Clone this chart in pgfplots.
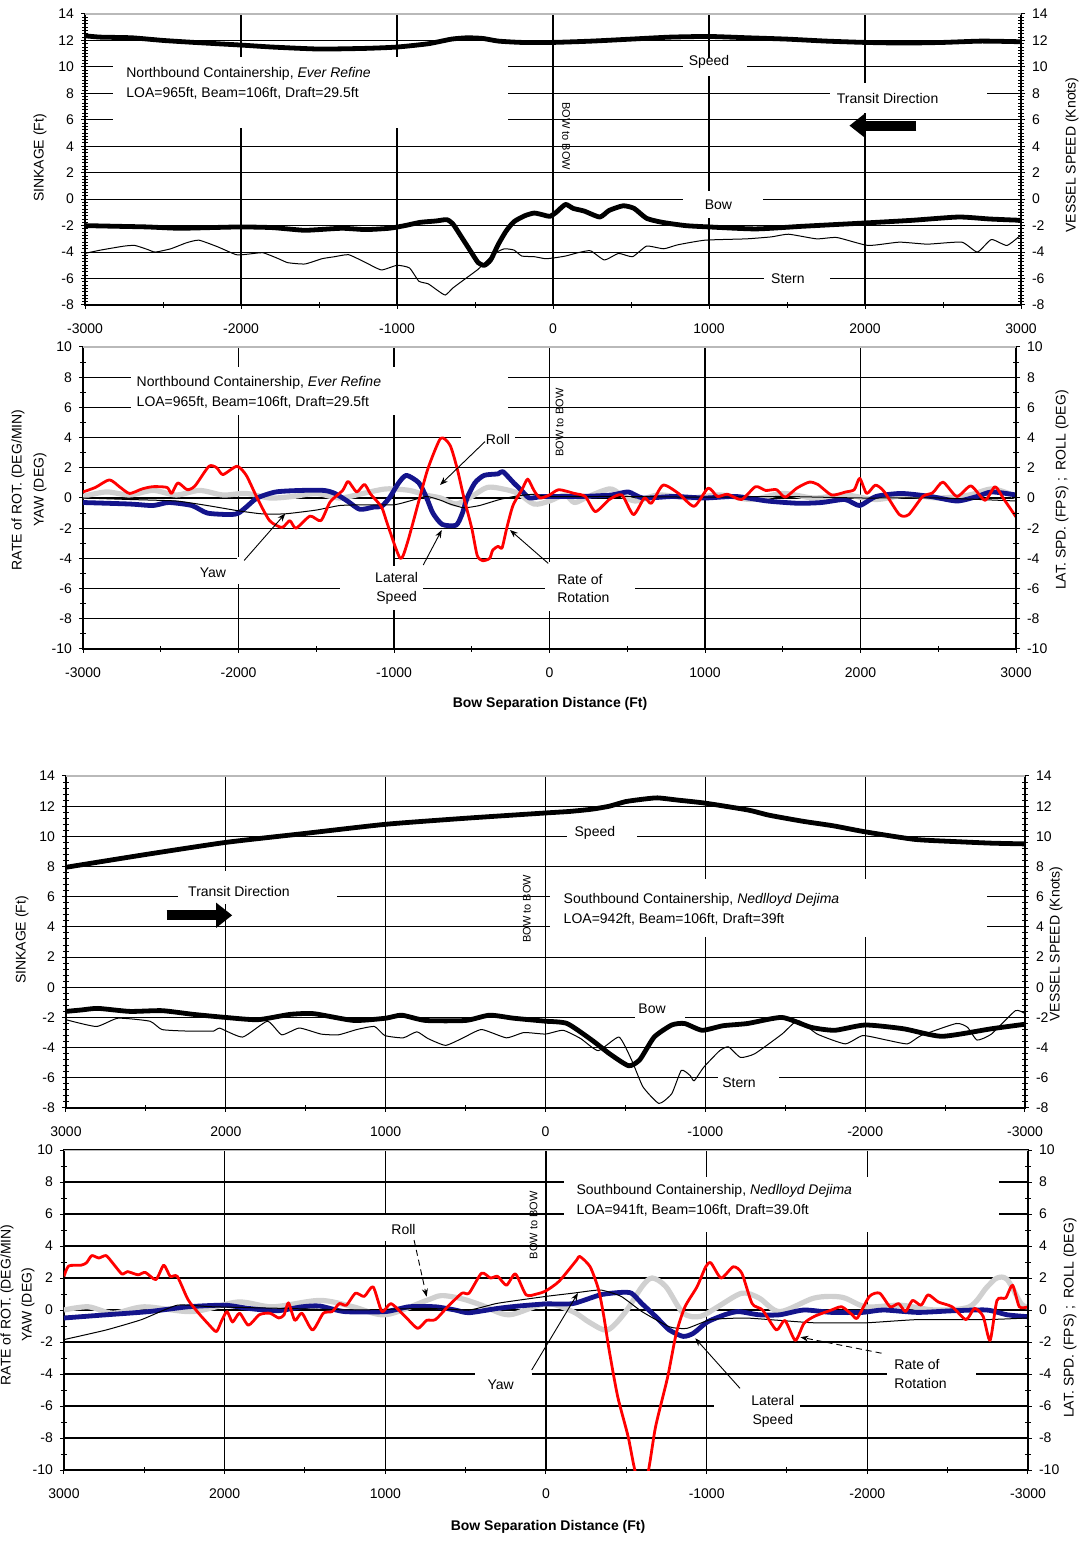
\documentclass[border=0pt]{standalone}
\usepackage{pgfplots}
\pgfplotsset{compat=1.18}
\usepackage{fontspec}
\setmainfont{Liberation Sans}
\usetikzlibrary{arrows.meta}
\definecolor{latblue}{RGB}{20,20,140}
\definecolor{rollgray}{RGB}{208,208,208}
\definecolor{rotred}{RGB}{255,0,0}
\newcommand{\lf}{\fontsize{7}{8.4}\selectfont}
\newcommand{\smf}{\fontsize{5.5}{6}\selectfont}
\tikzset{ptr/.style={black, line width=0.45pt, -{Stealth[length=4pt,width=3pt]}}}
\pgfplotsset{
  panel/.style={
    scale only axis, anchor=south west,
    xmin=-3000, xmax=3000,
    xtick={-3000,-2000,...,3000},
    minor xtick={-2500,-1500,...,2500},
    tick pos=left, tick align=center,
    major tick length=4pt, minor tick length=3pt,
    tick style={black, line width=0.5pt},
    grid=major,
    major grid style={black, line width=0.55pt},
    axis line style={black, line width=0.7pt},
    ticklabel style={font=\lf},
    /pgf/number format/assume math mode=true,
    /pgf/number format/1000 sep={},
    scaled ticks=false,
    xticklabel style={yshift=-4pt},
  },
  rightax/.style={
    scale only axis, anchor=south west,
    xmin=-3000, xmax=3000,
    axis x line=none, axis y line*=right,
    axis line style={-, black, line width=0.7pt},
    tick align=center, major tick length=4pt, minor tick length=3pt,
    tick style={black, line width=0.5pt},
    ticklabel style={font=\lf},
    /pgf/number format/assume math mode=true,
  },
  thickk/.style={black, line width=2.4pt, line join=round, smooth, tension=0.35},
  thinn/.style={black, line width=0.5pt, line join=round, smooth, tension=0.3},
  redl/.style={rotred, line width=1.4pt, line join=round, smooth, tension=0.4},
  bluel/.style={latblue, line width=2.4pt, line join=round, smooth, tension=0.4},
  grayl/.style={rollgray, line width=2.6pt, line join=round, smooth, tension=0.5},
}
\begin{document}
\begin{tikzpicture}
\useasboundingbox (0,0) rectangle (542pt,770.5pt);

% ================= PANEL 1 =================
\begin{axis}[panel, at={(42.5pt,618pt)}, width=468pt, height=145.5pt,
  ymin=-8, ymax=14, ytick={-8,-6,...,14}, minor y tick num=7]
\fill[white] (axis cs:-2820,5.4) rectangle (axis cs:-287,10.73);
\fill[white] (axis cs:831,9.28) rectangle (axis cs:1243,10.66);
\fill[white] (axis cs:1777,6.5) rectangle (axis cs:2780,8.77);
\fill[white] (axis cs:831,-1.4) rectangle (axis cs:1343,0.6);
\fill[white] (axis cs:1354,-6.6) rectangle (axis cs:1777,-5.4);
% Stern
\addplot[thinn] coordinates {(-3000,-4.1) (-2900,-3.85) (-2750,-3.55) (-2680,-3.5) (-2600,-3.8) (-2550,-4.0) (-2450,-3.75) (-2350,-3.3) (-2270,-3.1) (-2150,-3.6) (-2030,-4.2) (-1950,-4.15) (-1860,-4.05) (-1760,-4.5) (-1700,-4.8) (-1590,-4.9) (-1480,-4.5) (-1400,-4.35) (-1310,-4.2) (-1200,-4.8) (-1100,-5.35) (-1000,-5.0) (-920,-5.2) (-860,-6.2) (-800,-6.4) (-740,-6.9) (-690,-7.25) (-640,-6.7) (-560,-6.0) (-480,-5.3) (-420,-4.6) (-360,-4.0) (-310,-3.75) (-250,-3.85) (-200,-4.3) (-120,-4.35) (-50,-4.5) (0,-4.45) (80,-4.3) (160,-4.05) (240,-3.9) (330,-4.6) (420,-4.1) (510,-4.35) (600,-3.55) (710,-3.75) (800,-3.45) (975,-3.1) (1240,-3.0) (1400,-2.85) (1510,-2.65) (1690,-3.0) (1820,-2.9) (2020,-3.5) (2220,-3.25) (2400,-3.4) (2620,-3.25) (2720,-4.0) (2810,-3.05) (2910,-3.5) (3000,-2.7)};
% Bow
\addplot[thickk] coordinates {(-3000,-2.0) (-2800,-2.05) (-2600,-2.1) (-2400,-2.2) (-2200,-2.15) (-2000,-2.1) (-1800,-2.15) (-1600,-2.35) (-1500,-2.3) (-1350,-2.2) (-1200,-2.3) (-1050,-2.2) (-950,-2.0) (-850,-1.75) (-750,-1.65) (-680,-1.55) (-640,-1.9) (-590,-2.8) (-530,-3.9) (-480,-4.8) (-440,-5.0) (-400,-4.6) (-350,-3.4) (-300,-2.4) (-250,-1.7) (-180,-1.25) (-120,-1.05) (-60,-1.2) (-20,-1.3) (20,-1.0) (80,-0.4) (130,-0.7) (200,-0.9) (300,-1.35) (360,-0.85) (450,-0.5) (520,-0.7) (600,-1.45) (700,-1.75) (850,-2.0) (1000,-2.1) (1300,-2.25) (1600,-2.05) (2000,-1.8) (2300,-1.6) (2600,-1.35) (2800,-1.5) (3000,-1.6)};
% Speed
\addplot[thickk] coordinates {(-3000,12.35) (-2900,12.25) (-2700,12.2) (-2500,12.0) (-2300,11.85) (-2000,11.65) (-1800,11.5) (-1500,11.35) (-1200,11.4) (-1000,11.5) (-800,11.75) (-650,12.1) (-550,12.2) (-450,12.15) (-350,11.95) (-200,11.85) (0,11.85) (250,11.95) (500,12.1) (750,12.25) (1000,12.3) (1250,12.2) (1500,12.1) (1750,11.95) (2000,11.85) (2250,11.8) (2500,11.85) (2750,11.95) (3000,11.9)};
\node[anchor=west, font=\lf, align=left] at (axis cs:-2780,8.75) {Northbound Containership, \textit{Ever Refine}\\[1.5pt]LOA=965ft, Beam=106ft, Draft=29.5ft};
\node[font=\lf] at (axis cs:1000,10.4) {Speed};
\node[font=\lf] at (axis cs:2145,7.6) {Transit Direction};
\node[font=\lf] at (axis cs:1060,-0.45) {Bow};
\node[font=\lf] at (axis cs:1506,-6.0) {Stern};
\node[font=\smf, rotate=-90] at (axis cs:85,4.75) {BOW to BOW};
\draw[black, line width=5pt, -{Triangle[length=8pt,width=12pt]}] (axis cs:2330,5.56) -- (axis cs:1900,5.56);
\end{axis}
\begin{axis}[rightax, at={(42.5pt,618pt)}, width=468pt, height=145.5pt,
  ymin=-8, ymax=14, ytick={-8,-6,...,14}, minor y tick num=7]
\draw[gray!55, line width=1.1pt] (rel axis cs:0,1) -- (rel axis cs:1,1);
\end{axis}

% ================= PANEL 2 =================
\begin{axis}[panel, at={(41.5pt,446pt)}, width=466.5pt, height=151pt,
  ymin=-10, ymax=10, ytick={-10,-8,...,10}, minor y tick num=1]
\fill[white] (axis cs:-2689,5.5) rectangle (axis cs:-269,8.7);
\fill[white] (axis cs:-571,3.3) rectangle (axis cs:-225,4.5);
\fill[white] (axis cs:-2010,-5.7) rectangle (axis cs:-1006,-3.9);
\fill[white] (axis cs:-1347,-7.4) rectangle (axis cs:-813,-4.5);
\fill[white] (axis cs:-30,-7.5) rectangle (axis cs:552,-4.25);
% Roll (gray)
\addplot[grayl] coordinates {(-3000,0.1) (-2850,0.4) (-2700,0.2) (-2550,0.5) (-2400,0.2) (-2250,0.5) (-2100,0.2) (-1950,0.3) (-1800,0.0) (-1650,0.1) (-1500,0.3) (-1350,0.0) (-1200,0.3) (-1050,0.6) (-900,0.5) (-800,0.2) (-700,0.0) (-600,-0.4) (-500,0.1) (-400,0.7) (-300,0.6) (-200,0.3) (-100,-0.4) (0,-0.2) (100,0.2) (161,-0.3) (250,0.1) (385,0.6) (450,0.3) (550,-0.2) (700,0.2) (900,0.0) (1100,0.2) (1300,-0.1) (1500,0.3) (1700,0.0) (1900,0.2) (2100,-0.1) (2300,0.2) (2500,0.0) (2700,0.2) (2850,0.6) (3000,0.1)};
% Lateral speed (blue)
\addplot[bluel] coordinates {(-3000,-0.3) (-2700,-0.4) (-2550,-0.5) (-2450,-0.3) (-2300,-0.5) (-2200,-1.0) (-2050,-1.1) (-2000,-1.0) (-1950,-0.6) (-1880,0.0) (-1760,0.4) (-1600,0.5) (-1450,0.5) (-1380,0.3) (-1300,-0.2) (-1220,-0.75) (-1130,-0.6) (-1080,-0.55) (-1030,0.0) (-970,1.0) (-920,1.5) (-840,1.0) (-790,0.0) (-750,-1.0) (-690,-1.75) (-600,-1.8) (-560,-1.0) (-530,0.0) (-480,1.0) (-420,1.5) (-330,1.6) (-300,1.75) (-230,1.0) (-180,0.5) (-130,0.0) (-50,0.1) (0,0.1) (200,0.1) (400,0.2) (507,0.4) (600,0.0) (800,0.1) (1000,0.0) (1200,0.1) (1400,-0.2) (1600,-0.35) (1750,-0.3) (1900,-0.1) (1994,-0.5) (2100,0.1) (2262,0.3) (2450,0.1) (2620,-0.2) (2750,0.1) (2844,0.4) (3000,0.2)};
% Yaw (thin)
\addplot[thinn] coordinates {(-3000,0.0) (-2700,-0.1) (-2400,-0.2) (-2200,-0.5) (-2000,-0.85) (-1850,-1.05) (-1700,-1.05) (-1500,-0.8) (-1350,-0.5) (-1200,-0.45) (-1000,-0.45) (-900,-0.2) (-790,0.1) (-700,-0.15) (-640,-0.4) (-550,-0.65) (-450,-0.5) (-320,-0.1) (-200,0.15) (-90,0.25) (0,0.1) (500,0.1) (1000,0.05) (1500,0.1) (2000,0.0) (2500,0.0) (3000,-0.2)};
% Rate of rotation (red)
\addplot[redl] coordinates {(-3000,0.4) (-2920,0.7) (-2830,1.2) (-2760,0.7) (-2700,0.3) (-2620,0.6) (-2550,0.75) (-2460,0.7) (-2430,0.3) (-2390,1.0) (-2330,0.55) (-2280,0.8) (-2190,2.1) (-2140,2.0) (-2100,1.55) (-2010,2.1) (-1950,1.5) (-1880,0.0) (-1800,-1.5) (-1720,-1.95) (-1670,-1.5) (-1630,-2.0) (-1540,-1.2) (-1470,-1.5) (-1410,-0.25) (-1330,0.5) (-1295,1.1) (-1240,0.4) (-1190,0.9) (-1150,0.25) (-1080,-0.6) (-1040,-1.8) (-960,-4.0) (-915,-3.0) (-835,0.0) (-780,2.0) (-700,3.95) (-640,3.5) (-595,2.0) (-550,0.0) (-500,-2.0) (-465,-3.8) (-430,-4.15) (-385,-4.0) (-365,-3.45) (-330,-3.2) (-305,-3.3) (-275,-2.0) (-235,-0.5) (-175,0.6) (-140,1.25) (-100,0.5) (-60,0.0) (0,0.2) (60,0.55) (160,0.3) (230,0.1) (295,-0.9) (385,-0.1) (465,0.2) (540,-1.1) (610,0.0) (655,-0.35) (730,0.85) (830,0.3) (930,-0.55) (1020,0.65) (1080,0.1) (1145,0.25) (1235,-0.1) (1325,0.75) (1390,0.5) (1460,0.55) (1515,0.05) (1590,0.65) (1670,1.05) (1725,0.9) (1815,0.2) (1905,0.4) (1960,0.55) (1995,1.3) (2040,0.3) (2095,0.85) (2150,0.45) (2250,-1.1) (2310,-1.1) (2400,0.1) (2465,0.35) (2530,1.05) (2620,0.1) (2710,0.8) (2800,-0.15) (2865,0.75) (2920,-0.05) (3000,-1.25)};
\node[anchor=west, font=\lf, align=left] at (axis cs:-2700,7.0) {Northbound Containership, \textit{Ever Refine}\\[1.5pt]LOA=965ft, Beam=106ft, Draft=29.5ft};
\node[font=\lf] at (axis cs:-331,3.9) {Roll};
\node[font=\lf] at (axis cs:-2164,-4.97) {Yaw};
\node[font=\lf, align=center] at (axis cs:-983,-6.0) {Lateral\\[1pt]Speed};
\node[font=\lf, align=left, anchor=west] at (axis cs:5,-6.0) {Rate of\\[1pt]Rotation};
\node[font=\smf, rotate=90] at (axis cs:65,5.0) {BOW to BOW};
\draw[ptr] (axis cs:-415,3.73) -- (axis cs:-704,0.86);
\draw[ptr] (axis cs:-1964,-4.14) -- (axis cs:-1699,-1.03);
\draw[ptr] (axis cs:-812,-4.44) -- (axis cs:-693,-2.12);
\draw[ptr] (axis cs:-8,-4.33) -- (axis cs:-254,-2.12);
\end{axis}
\begin{axis}[rightax, at={(41.5pt,446pt)}, width=466.5pt, height=151pt,
  ymin=-10, ymax=10, ytick={-10,-8,...,10}, minor y tick num=1]
\draw[gray!55, line width=1.1pt] (rel axis cs:0,1) -- (rel axis cs:1,1);
\end{axis}

% ================= PANEL 3 =================
\begin{axis}[panel, x dir=reverse, at={(33pt,216.5pt)}, width=479.5pt, height=166pt,
  ymin=-8, ymax=14, ytick={-8,-6,...,14}, minor y tick num=4]
\fill[white] (axis cs:2297,5.5) rectangle (axis cs:1305,7.7);
\fill[white] (axis cs:-26,3.3) rectangle (axis cs:-2765,7.2);
\fill[white] (axis cs:-135,9.5) rectangle (axis cs:-570,11.0);
\fill[white] (axis cs:-559,-2.3) rectangle (axis cs:-874,-0.6);
\fill[white] (axis cs:-1080,-6.9) rectangle (axis cs:-1461,-5.5);
% Stern
\addplot[thinn] coordinates {(-3000,-1.75) (-2940,-1.55) (-2790,-3.1) (-2700,-3.5) (-2640,-2.65) (-2570,-2.4) (-2350,-3.2) (-2265,-3.75) (-2135,-3.5) (-1985,-3.2) (-1875,-3.75) (-1700,-3.1) (-1580,-2.2) (-1480,-3.1) (-1310,-4.4) (-1220,-4.65) (-1145,-3.95) (-1090,-4.2) (-990,-5.3) (-930,-6.2) (-905,-5.85) (-850,-5.5) (-790,-7.05) (-710,-7.7) (-610,-6.6) (-540,-4.85) (-460,-3.3) (-330,-4.2) (-220,-3.4) (-110,-2.85) (0,-3.1) (135,-3.0) (245,-3.35) (400,-2.8) (515,-3.35) (625,-3.85) (735,-3.4) (805,-2.95) (890,-3.35) (1005,-3.2) (1070,-2.6) (1180,-2.8) (1295,-3.15) (1405,-3.1) (1540,-2.7) (1650,-3.15) (1740,-2.25) (1895,-3.3) (2040,-2.7) (2075,-2.9) (2250,-2.9) (2400,-2.8) (2475,-2.25) (2675,-2.05) (2810,-2.6) (3000,-2.15)};
% Bow
\addplot[thickk] coordinates {(-3000,-2.45) (-2790,-2.75) (-2480,-3.25) (-2240,-2.75) (-2000,-2.5) (-1810,-2.85) (-1660,-2.65) (-1480,-2.0) (-1265,-2.4) (-1110,-2.55) (-980,-2.85) (-870,-2.4) (-790,-2.5) (-680,-3.3) (-590,-4.8) (-520,-5.2) (-400,-4.4) (-290,-3.5) (-135,-2.4) (0,-2.25) (50,-2.2) (200,-2.05) (350,-1.85) (500,-2.2) (750,-2.2) (900,-1.85) (1000,-2.05) (1200,-2.2) (1450,-1.75) (1600,-1.8) (1800,-2.15) (2000,-2.0) (2200,-1.8) (2400,-1.55) (2600,-1.6) (2800,-1.4) (2900,-1.5) (3000,-1.6)};
% Speed
\addplot[thickk] coordinates {(-3000,9.5) (-2790,9.55) (-2570,9.65) (-2310,9.8) (-2000,10.3) (-1800,10.7) (-1610,11.0) (-1400,11.4) (-1265,11.75) (-1000,12.2) (-830,12.4) (-700,12.55) (-600,12.45) (-500,12.3) (-400,12.0) (-290,11.8) (-150,11.65) (0,11.55) (500,11.2) (1000,10.8) (1500,10.2) (2000,9.6) (2500,8.8) (3000,7.95)};
\node[font=\lf] at (axis cs:1918,6.37) {Transit Direction};
\node[anchor=west, font=\lf, align=left] at (axis cs:-70,5.17) {Southbound Containership, \textit{Nedlloyd Dejima}\\[1.5pt]LOA=942ft, Beam=106ft, Draft=39ft};
\node[font=\lf] at (axis cs:-309,10.24) {Speed};
\node[font=\lf] at (axis cs:-667,-1.42) {Bow};
\node[font=\lf] at (axis cs:-1211,-6.29) {Stern};
\node[font=\smf, rotate=90] at (axis cs:116,5.2) {BOW to BOW};
\draw[black, line width=5pt, -{Triangle[length=8pt,width=12pt]}] (axis cs:2370,4.77) -- (axis cs:1960,4.77);
\end{axis}
\begin{axis}[rightax, x dir=reverse, at={(33pt,216.5pt)}, width=479.5pt, height=166pt,
  ymin=-8, ymax=14, ytick={-8,-6,...,14}, minor y tick num=4]
\draw[gray!55, line width=1.1pt] (rel axis cs:0,1) -- (rel axis cs:1,1);
\end{axis}

% ================= PANEL 4 =================
\begin{axis}[panel, x dir=reverse, at={(32pt,35.5pt)}, width=482pt, height=160pt,
  ymin=-10, ymax=10, ytick={-10,-8,...,10}, minor y tick num=1]
\fill[white] (axis cs:-114,4.9) rectangle (axis cs:-2818,8.3);
\fill[white] (axis cs:1020,4.3) rectangle (axis cs:790,5.95);
\fill[white] (axis cs:442,-5.5) rectangle (axis cs:89,-3.8);
\fill[white] (axis cs:-1047,-7.3) rectangle (axis cs:-1584,-5.3);
\fill[white] (axis cs:-2120,-5.0) rectangle (axis cs:-2678,-3.0);
% Roll (gray)
\addplot[grayl] coordinates {(-3000,0.2) (-2957,0.4) (-2871,1.9) (-2807,2.0) (-2742,1.4) (-2635,0.2) (-2421,0.0) (-2206,0.3) (-1991,0.2) (-1841,0.8) (-1670,0.75) (-1455,-0.1) (-1326,0.75) (-1219,1.05) (-1069,0.2) (-961,-0.4) (-854,-0.2) (-747,1.45) (-661,2.0) (-597,1.45) (-489,-0.2) (-382,-1.25) (-275,-0.8) (-167,-0.1) (0,0.4) (230,-0.3) (400,0.3) (523,0.7) (650,0.9) (743,0.6) (1000,-0.3) (1200,0.2) (1408,0.6) (1700,0.2) (1918,0.5) (2200,-0.1) (2500,0.2) (2694,-0.2) (2849,0.2) (3000,0.0)};
% Lateral speed (blue)
\addplot[bluel] coordinates {(-3000,-0.42) (-2871,-0.3) (-2742,0.0) (-2528,-0.05) (-2313,-0.15) (-2099,0.0) (-1970,-0.15) (-1777,-0.15) (-1605,0.0) (-1455,-0.3) (-1326,-0.3) (-1197,-0.1) (-1112,-0.3) (-1004,-0.75) (-918,-1.45) (-854,-1.65) (-768,-1.25) (-682,-0.4) (-597,0.4) (-532,1.05) (-468,1.1) (-339,0.95) (-167,0.4) (0,0.38) (167,0.25) (301,0.1) (479,-0.17) (566,0.0) (688,0.2) (854,0.2) (1000,-0.1) (1253,-0.1) (1408,0.25) (1519,0.2) (1674,-0.05) (1852,0.1) (2000,0.3) (2228,0.2) (2472,-0.1) (2738,-0.3) (3000,-0.5)};
% Yaw (thin)
\addplot[thinn] coordinates {(-3000,-0.5) (-2742,-0.6) (-2313,-0.6) (-1991,-0.8) (-1670,-0.8) (-1455,-0.65) (-1240,-0.5) (-1026,-0.6) (-876,-1.15) (-768,-1.05) (-597,-0.1) (-468,0.85) (-339,1.25) (-167,1.05) (0,0.85) (301,0.42) (479,0.0) (743,0.1) (1186,0.0) (1630,0.1) (2073,0.2) (2295,0.3) (2517,-0.6) (2738,-1.25) (3000,-1.85)};
% Rate of rotation (red)
\addplot[redl] coordinates {(-3000,0.2) (-2946,0.2) (-2904,1.55) (-2861,0.75) (-2807,0.6) (-2764,-1.9) (-2721,-0.4) (-2667,0.1) (-2614,-0.6) (-2528,0.2) (-2442,0.5) (-2378,0.95) (-2335,0.3) (-2281,0.6) (-2238,-0.1) (-2195,0.4) (-2142,0.2) (-2077,1.05) (-2013,0.85) (-1938,-0.5) (-1906,-0.3) (-1841,0.2) (-1777,0.0) (-1670,-0.4) (-1605,-0.85) (-1552,-1.9) (-1487,-0.65) (-1434,-1.25) (-1348,0.0) (-1283,0.4) (-1219,2.3) (-1165,2.7) (-1090,2.0) (-1026,2.95) (-994,2.7) (-940,1.45) (-865,0.2) (-811,-1.45) (-757,-4.2) (-682,-7.3) (-629,-10.4) (-564,-10.4) (-511,-7.9) (-446,-5.4) (-393,-2.5) (-360,-0.4) (-328,1.25) (-275,2.7) (-210,3.35) (-189,3.1) (-82,1.8) (0,1.2) (58,1.0) (124,0.95) (190,2.25) (246,1.55) (301,2.1) (346,2.0) (401,2.3) (479,1.05) (523,1.05) (612,0.2) (688,-0.6) (743,-0.65) (799,-1.15) (877,-0.4) (965,0.4) (1021,-0.1) (1076,1.45) (1131,0.85) (1186,1.05) (1242,0.3) (1286,0.4) (1331,-0.1) (1386,-0.2) (1453,-1.25) (1519,-0.2) (1563,-0.65) (1603,0.45) (1630,-0.3) (1663,-0.5) (1719,-0.2) (1785,-0.3) (1852,-0.95) (1907,-0.2) (1951,-0.75) (1985,-0.1) (2018,-0.65) (2051,-1.35) (2095,-0.95) (2162,-0.2) (2228,0.65) (2295,2.1) (2339,2.1) (2379,2.8) (2428,1.9) (2494,2.35) (2539,2.2) (2605,2.4) (2639,2.25) (2694,2.9) (2738,3.4) (2783,3.25) (2827,3.4) (2860,2.95) (2894,2.8) (2971,2.75) (3000,2.1)};
\node[anchor=west, font=\lf, align=left] at (axis cs:-146,6.85) {Southbound Containership, \textit{Nedlloyd Dejima}\\[1.5pt]LOA=941ft, Beam=106ft, Draft=39.0ft};
\node[font=\lf] at (axis cs:887,5.04) {Roll};
\node[font=\lf] at (axis cs:282,-4.65) {Yaw};
\node[font=\lf, align=center] at (axis cs:-1412,-6.35) {Lateral\\[1pt]Speed};
\node[font=\lf, align=left, anchor=west] at (axis cs:-2125,-4.0) {Rate of\\[1pt]Rotation};
\node[font=\smf, rotate=90] at (axis cs:77,5.3) {BOW to BOW};
\draw[ptr, densely dashed] (axis cs:821,4.37) -- (axis cs:743,0.83);
\draw[ptr] (axis cs:89,-3.75) -- (axis cs:-199,1.06);
\draw[ptr] (axis cs:-1208,-4.9) -- (axis cs:-929,-1.77);
\draw[ptr, densely dashed] (axis cs:-2088,-2.7) -- (axis cs:-1584,-1.7);
\end{axis}
\begin{axis}[rightax, x dir=reverse, at={(32pt,35.5pt)}, width=482pt, height=160pt,
  ymin=-10, ymax=10, ytick={-10,-8,...,10}, minor y tick num=1]
\draw[gray!55, line width=1.1pt] (rel axis cs:0,1) -- (rel axis cs:1,1);
\end{axis}

% ================= AXIS TITLES =================
\node[font=\lf, rotate=90] at (20pt,691.5pt) {SINKAGE (Ft)};
\node[font=\lf, rotate=90] at (536pt,693pt) {VESSEL SPEED (Knots)};
\node[font=\lf, rotate=90] at (9pt,525.5pt) {RATE of ROT. (DEG/MIN)};
\node[font=\lf, rotate=90] at (20pt,525.5pt) {YAW (DEG)};
\node[font=\lf, rotate=90] at (531pt,525.5pt) {LAT. SPD. (FPS) ; \ ROLL (DEG)};
\node[font=\lf\bfseries] at (275pt,418.5pt) {Bow Separation Distance (Ft)};
\node[font=\lf, rotate=90] at (11pt,300.5pt) {SINKAGE (Ft)};
\node[font=\lf, rotate=90] at (528pt,298.5pt) {VESSEL SPEED (Knots)};
\node[font=\lf, rotate=90] at (3.5pt,118pt) {RATE of ROT. (DEG/MIN)};
\node[font=\lf, rotate=90] at (14pt,118pt) {YAW (DEG)};
\node[font=\lf, rotate=90] at (535pt,111.5pt) {LAT. SPD. (FPS) ; \ ROLL (DEG)};
\node[font=\lf\bfseries] at (274pt,7pt) {Bow Separation Distance (Ft)};
\end{tikzpicture}
\end{document}
